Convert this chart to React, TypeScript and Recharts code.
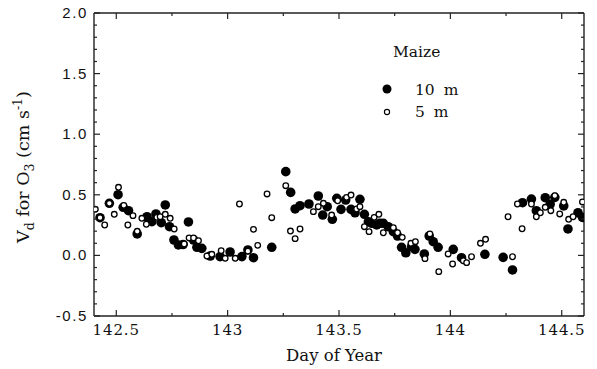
import React from "react";
import { ScatterChart, Scatter, XAxis, YAxis } from "recharts";

// Day of year / Vd (cm s-1) at 10 m
const day10m = [
  142.427, 142.469, 142.508, 142.531, 142.555, 142.594, 142.638, 142.66, 142.678, 142.702,
  142.72, 142.739, 142.759, 142.779, 142.8, 142.824, 142.847, 142.862, 142.884, 142.922,
  142.966, 143.011, 143.064, 143.091, 143.116, 143.198, 143.261, 143.283, 143.303, 143.325,
  143.365, 143.407, 143.427, 143.447, 143.47, 143.49, 143.509, 143.53, 143.554, 143.572,
  143.594, 143.614, 143.632, 143.647, 143.669, 143.684, 143.699, 143.721, 143.744, 143.763,
  143.781, 143.8, 143.826, 143.841, 143.883, 143.905, 143.923, 143.945, 144.013, 144.05,
  144.155, 144.237, 144.279, 144.324, 144.364, 144.386, 144.426, 144.448, 144.469, 144.509,
  144.528, 144.573, 144.593,
];
const vd10m = [
  0.311, 0.43, 0.501, 0.397, 0.369, 0.177, 0.319, 0.278, 0.342, 0.27,
  0.416, 0.237, 0.127, 0.086, 0.09, 0.276, 0.127, 0.067, 0.058, -0.005,
  -0.01, 0.028, -0.01, 0.045, -0.019, 0.067, 0.691, 0.52, 0.383, 0.41,
  0.424, 0.49, 0.333, 0.402, 0.298, 0.471, 0.38, 0.457, 0.38, 0.352,
  0.463, 0.339, 0.278, 0.265, 0.251, 0.265, 0.265, 0.237, 0.196, 0.16,
  0.067, 0.022, 0.072, 0.05, 0.012, 0.16, 0.113, 0.067, 0.05, -0.019,
  0.009, -0.016, -0.12, 0.435, 0.465, 0.369, 0.476, 0.422, 0.479, 0.408,
  0.218, 0.352, 0.314,
];

// Day of year / Vd (cm s-1) at 5 m
const day5m = [
  142.406, 142.427, 142.448, 142.469, 142.491, 142.51, 142.534, 142.552, 142.575, 142.594,
  142.615, 142.635, 142.682, 142.697, 142.72, 142.742, 142.76, 142.805, 142.827, 142.847,
  142.869, 142.907, 142.929, 142.971, 142.989, 143.034, 143.053, 143.091, 143.116, 143.135,
  143.177, 143.198, 143.261, 143.282, 143.303, 143.325, 143.385, 143.407, 143.43, 143.467,
  143.494, 143.534, 143.554, 143.579, 143.594, 143.614, 143.635, 143.658, 143.679, 143.699,
  143.744, 143.763, 143.784, 143.823, 143.843, 143.886, 143.908, 143.948, 143.99, 144.01,
  144.058, 144.073, 144.095, 144.135, 144.158, 144.259, 144.279, 144.301, 144.322, 144.364,
  144.386, 144.404, 144.426, 144.451, 144.469, 144.491, 144.509, 144.531, 144.551, 144.593,
];
const vd5m = [
  0.381, 0.311, 0.251, 0.43, 0.339, 0.562, 0.413, 0.251, 0.328, 0.199,
  0.306, 0.257, 0.314, 0.319, 0.339, 0.306, 0.218, 0.094, 0.144, 0.144,
  0.121, -0.005, 0.009, 0.039, -0.024, -0.024, 0.424, 0.035, 0.215, 0.083,
  0.507, 0.311, 0.575, 0.201, 0.138, 0.218, 0.361, 0.402, 0.43, 0.333,
  0.451, 0.479, 0.498, 0.383, 0.402, 0.237, 0.196, 0.314, 0.339, 0.187,
  0.229, 0.187, 0.149, 0.1, 0.113, -0.027, 0.177, -0.134, 0.012, -0.071,
  -0.044, -0.06, -0.011, 0.1, 0.133, 0.319, -0.011, 0.424, 0.22, 0.424,
  0.319, 0.352, 0.397, 0.369, 0.493, 0.342, 0.438, 0.298, 0.319, 0.441,
];

const xTicks = [142.5, 142.75, 143, 143.25, 143.5, 143.75, 144, 144.25, 144.5];
const yTicks = [
  -0.5, -0.4, -0.3, -0.2, -0.1, 0, 0.1, 0.2, 0.3, 0.4, 0.5, 0.6, 0.7, 0.8, 0.9, 1.0,
  1.1, 1.2, 1.3, 1.4, 1.5, 1.6, 1.7, 1.8, 1.9, 2.0,
];
const seriesNames = ["10 m", "5 m"];
const legendTitle = "Maize";

const data10 = day10m.map((x, i) => ({ x, y: vd10m[i] }));
const data5 = day5m.map((x, i) => ({ x, y: vd5m[i] }));

const AX = "#222";
const SERIF = "'DejaVu Serif', serif";
const SANS = "'Liberation Sans', Arial, sans-serif";

const isMajor = (v: number) => Math.abs(v * 2 - Math.round(v * 2)) < 1e-6;

const BottomTick = (p: any) => {
  const v = p.payload.value;
  const m = isMajor(v);
  return (
    <g>
      <line x1={p.x} x2={p.x} y1={p.y} y2={p.y - (m ? 6 : 3)} stroke={AX} strokeWidth={1.2} />
      {m && (
        <text x={p.x} y={p.y + 19} textAnchor="middle" fontFamily={SERIF} fontSize={15} letterSpacing={0.9} fill="#111">
          {String(v)}
        </text>
      )}
    </g>
  );
};
const TopTick = (p: any) => {
  const m = isMajor(p.payload.value);
  return <line x1={p.x} x2={p.x} y1={p.y} y2={p.y + (m ? 6 : 3)} stroke={AX} strokeWidth={1.2} />;
};
const LeftTick = (p: any) => {
  const v = p.payload.value;
  const m = isMajor(v);
  return (
    <g>
      <line x1={p.x} x2={p.x + (m ? 6 : 3)} y1={p.y} y2={p.y} stroke={AX} strokeWidth={1.2} />
      {m && (
        <text x={p.x - 6} y={p.y + 5} textAnchor="end" fontFamily={SANS} fontSize={15} letterSpacing={1.6} fill="#111">
          {v.toFixed(1)}
        </text>
      )}
    </g>
  );
};
const RightTick = (p: any) => {
  const m = isMajor(p.payload.value);
  return <line x1={p.x} x2={p.x - (m ? 6 : 3)} y1={p.y} y2={p.y} stroke={AX} strokeWidth={1.2} />;
};

const Filled = (p: any) => <circle cx={p.cx} cy={p.cy} r={4.8} fill="#000" />;
const Open = (p: any) => <circle cx={p.cx} cy={p.cy} r={2.8} fill="#fff" stroke="#000" strokeWidth={1.3} />;

const Decor = () => (
  <g>
    <text
      x={29}
      y={167}
      transform="rotate(-90, 29, 167)"
      textAnchor="middle"
      fontFamily={SERIF}
      fontSize={17.5}
      fill="#111"
    >
      <tspan>V</tspan>
      <tspan dy={5} fontSize={12.5}>d</tspan>
      <tspan dy={-5}> for O</tspan>
      <tspan dy={5} fontSize={12.5}>3</tspan>
      <tspan dy={-5}> (cm s</tspan>
      <tspan dy={-7} fontSize={12.5}>-1</tspan>
      <tspan dy={7}>)</tspan>
    </text>
    <text x={334} y={361} textAnchor="middle" fontFamily={SERIF} fontSize={16.5} fill="#111">
      Day of Year
    </text>
    <text x={393} y={57} fontFamily={SERIF} fontSize={15.5} fill="#111">
      {legendTitle}
    </text>
    <circle cx={387} cy={89} r={4.5} fill="#000" />
    <text x={415} y={95} fontFamily={SERIF} fontSize={15.5} wordSpacing={4} fill="#111">
      {seriesNames[0]}
    </text>
    <circle cx={387} cy={112} r={2.6} fill="#fff" stroke="#000" strokeWidth={1.1} />
    <text x={415} y={117} fontFamily={SERIF} fontSize={15.5} wordSpacing={4} fill="#111">
      {seriesNames[1]}
    </text>
  </g>
);

export default function App() {
  return (
    <div style={{ position: "absolute", left: 0, top: 0 }}>
      <ScatterChart width={597} height={369} margin={{ top: 0, right: 0, bottom: 0, left: 0 }}>
        <XAxis
          xAxisId="b"
          type="number"
          dataKey="x"
          domain={[142.4, 144.6]}
          ticks={xTicks}
          interval={0}
          orientation="bottom"
          height={53}
          tickSize={0}
          tickMargin={0}
          tick={<BottomTick />}
          axisLine={{ stroke: AX, strokeWidth: 1.4 }}
          tickLine={false}
          allowDataOverflow
          label={{ content: () => <Decor /> }}
        />
        <XAxis
          xAxisId="t"
          type="number"
          dataKey="x"
          domain={[142.4, 144.6]}
          ticks={xTicks}
          interval={0}
          orientation="top"
          height={13}
          tickSize={0}
          tickMargin={0}
          tick={<TopTick />}
          axisLine={{ stroke: AX, strokeWidth: 1.4 }}
          tickLine={false}
          allowDataOverflow
        />
        <YAxis
          yAxisId="l"
          type="number"
          dataKey="y"
          domain={[-0.5, 2]}
          ticks={yTicks}
          interval={0}
          orientation="left"
          width={94}
          tickSize={0}
          tickMargin={0}
          tick={<LeftTick />}
          axisLine={{ stroke: AX, strokeWidth: 1.4 }}
          tickLine={false}
          allowDataOverflow
        />
        <YAxis
          yAxisId="r"
          type="number"
          dataKey="y"
          domain={[-0.5, 2]}
          ticks={yTicks}
          interval={0}
          orientation="right"
          width={13}
          tickSize={0}
          tickMargin={0}
          tick={<RightTick />}
          axisLine={{ stroke: AX, strokeWidth: 1.4 }}
          tickLine={false}
          allowDataOverflow
        />
        <Scatter name={seriesNames[0]} data={data10} xAxisId="b" yAxisId="l" shape={<Filled />} isAnimationActive={false} />
        <Scatter name={seriesNames[1]} data={data5} xAxisId="b" yAxisId="l" shape={<Open />} isAnimationActive={false} />
        <Scatter data={[]} xAxisId="t" yAxisId="r" isAnimationActive={false} />
      </ScatterChart>
    </div>
  );
}
